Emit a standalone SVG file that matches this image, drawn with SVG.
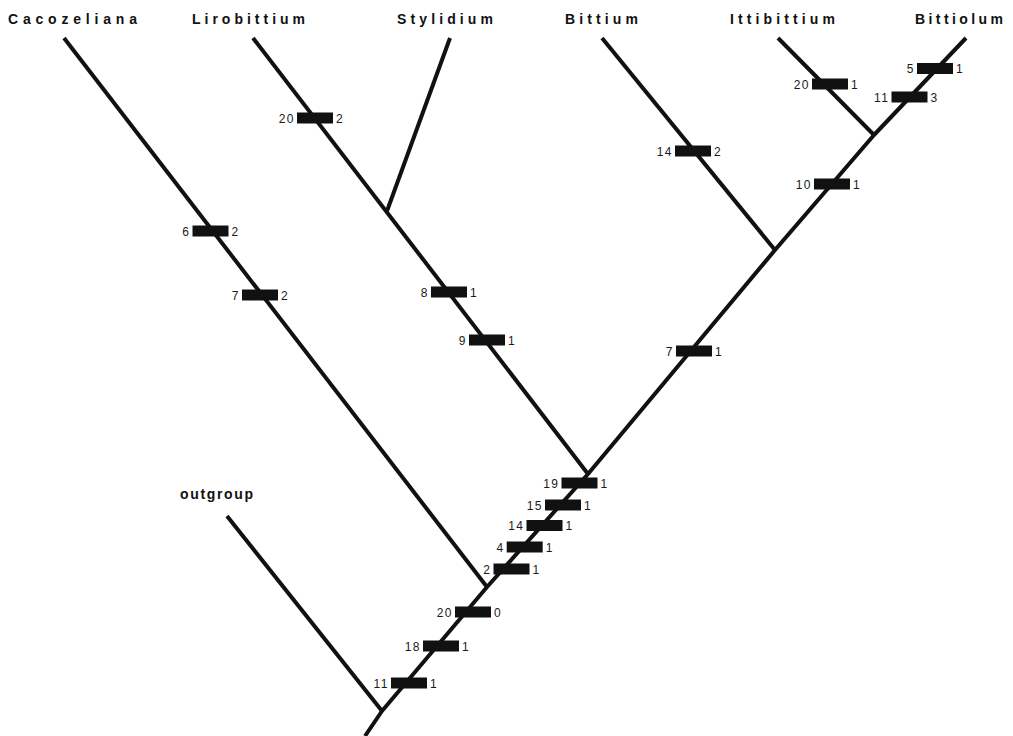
<svg xmlns="http://www.w3.org/2000/svg" width="1013" height="736" viewBox="0 0 1013 736">
  <style>
    .branch { fill: none; stroke: #111; stroke-width: 4; stroke-linecap: butt; stroke-linejoin: round; }
    .taxon { font-family: "Liberation Sans", Arial, sans-serif; font-size: 14px; font-weight: bold; fill: #111; }
    .bar { fill: #111; }
    .chr { font-family: "Liberation Sans", Arial, sans-serif; font-size: 12px; fill: #1a1a1a; letter-spacing: 1.5px; }
    .num { text-anchor: end; }
  </style>
  <rect width="1013" height="736" fill="#ffffff"/>

  <!-- branches of the cladogram -->
  <g id="connectors">
    <!-- main trunk from the root up to Bittiolum -->
    <polyline class="branch" points="365,736 382,711 487,587 588,474 775,250 874,135 966,38"/>
    <line class="branch" x1="227" y1="516" x2="382" y2="711"/>
    <line class="branch" x1="64" y1="38" x2="487" y2="587"/>
    <line class="branch" x1="253" y1="38" x2="588" y2="474"/>
    <line class="branch" x1="450" y1="38" x2="387" y2="211"/>
    <line class="branch" x1="602" y1="38" x2="775" y2="250"/>
    <line class="branch" x1="778" y1="38" x2="874" y2="135"/>
  </g>

  <!-- terminal taxa -->
  <g id="taxon-cacozeliana"><text class="taxon" x="8" y="23.5" textLength="129" lengthAdjust="spacing">Cacozeliana</text></g>
  <g id="taxon-lirobittium"><text class="taxon" x="192" y="23.5" textLength="113" lengthAdjust="spacing">Lirobittium</text></g>
  <g id="taxon-stylidium"><text class="taxon" x="397" y="23.5" textLength="96" lengthAdjust="spacing">Stylidium</text></g>
  <g id="taxon-bittium"><text class="taxon" x="565" y="23.5" textLength="73" lengthAdjust="spacing">Bittium</text></g>
  <g id="taxon-ittibittium"><text class="taxon" x="730" y="23.5" textLength="105" lengthAdjust="spacing">Ittibittium</text></g>
  <g id="taxon-bittiolum"><text class="taxon" x="915" y="23.5" textLength="88" lengthAdjust="spacing">Bittiolum</text></g>
  <g id="taxon-outgroup"><text class="taxon" x="180" y="499" textLength="73" lengthAdjust="spacing">outgroup</text></g>

  <!-- character state changes: character number, bar, new state -->
  <g id="chars-cacozeliana">
    <rect class="bar" x="192.5" y="225.5" width="36" height="11"/>
    <text class="chr num" x="190.5" y="235.5">6</text><text class="chr" x="231.5" y="235.5">2</text>
    <rect class="bar" x="242" y="289.5" width="36" height="11"/>
    <text class="chr num" x="240" y="299.5">7</text><text class="chr" x="281" y="299.5">2</text>
  </g>
  <g id="chars-lirobittium">
    <rect class="bar" x="297" y="112.5" width="36" height="11"/>
    <text class="chr num" x="295" y="122.5">20</text><text class="chr" x="336" y="122.5">2</text>
  </g>
  <g id="chars-lirobittium-stylidium">
    <rect class="bar" x="431" y="286.5" width="36" height="11"/>
    <text class="chr num" x="429" y="296.5">8</text><text class="chr" x="470" y="296.5">1</text>
    <rect class="bar" x="469" y="334.5" width="36" height="11"/>
    <text class="chr num" x="467" y="344.5">9</text><text class="chr" x="508" y="344.5">1</text>
  </g>
  <g id="chars-bittium">
    <rect class="bar" x="675" y="145.5" width="36" height="11"/>
    <text class="chr num" x="673" y="155.5">14</text><text class="chr" x="714" y="155.5">2</text>
  </g>
  <g id="chars-ittibittium">
    <rect class="bar" x="812" y="78.5" width="36" height="11"/>
    <text class="chr num" x="810" y="88.5">20</text><text class="chr" x="851" y="88.5">1</text>
  </g>
  <g id="chars-bittiolum">
    <rect class="bar" x="917" y="63" width="36" height="11"/>
    <text class="chr num" x="915" y="73">5</text><text class="chr" x="956" y="73">1</text>
    <rect class="bar" x="891.5" y="91.5" width="36" height="11"/>
    <text class="chr num" x="889.5" y="101.5">11</text><text class="chr" x="930.5" y="101.5">3</text>
  </g>
  <g id="chars-ittibittium-bittiolum">
    <rect class="bar" x="814" y="178.5" width="36" height="11"/>
    <text class="chr num" x="812" y="188.5">10</text><text class="chr" x="853" y="188.5">1</text>
  </g>
  <g id="chars-bittium-group">
    <rect class="bar" x="676" y="345.5" width="36" height="11"/>
    <text class="chr num" x="674" y="355.5">7</text><text class="chr" x="715" y="355.5">1</text>
  </g>
  <g id="chars-ingroup-upper">
    <rect class="bar" x="561.5" y="477.5" width="36" height="11"/>
    <text class="chr num" x="559.5" y="487.5">19</text><text class="chr" x="600.5" y="487.5">1</text>
    <rect class="bar" x="545" y="499.5" width="36" height="11"/>
    <text class="chr num" x="543" y="509.5">15</text><text class="chr" x="584" y="509.5">1</text>
    <rect class="bar" x="526.5" y="520" width="36" height="11"/>
    <text class="chr num" x="524.5" y="530">14</text><text class="chr" x="565.5" y="530">1</text>
    <rect class="bar" x="506.7" y="541.5" width="36" height="11"/>
    <text class="chr num" x="504.7" y="551.5">4</text><text class="chr" x="545.7" y="551.5">1</text>
    <rect class="bar" x="493.5" y="563.5" width="36" height="11"/>
    <text class="chr num" x="491.5" y="573.5">2</text><text class="chr" x="532.5" y="573.5">1</text>
  </g>
  <g id="chars-ingroup-lower">
    <rect class="bar" x="455" y="606.5" width="36" height="11"/>
    <text class="chr num" x="453" y="616.5">20</text><text class="chr" x="494" y="616.5">0</text>
    <rect class="bar" x="423" y="640.5" width="36" height="11"/>
    <text class="chr num" x="421" y="650.5">18</text><text class="chr" x="462" y="650.5">1</text>
    <rect class="bar" x="391" y="677.5" width="36" height="11"/>
    <text class="chr num" x="389" y="687.5">11</text><text class="chr" x="430" y="687.5">1</text>
  </g>
</svg>
